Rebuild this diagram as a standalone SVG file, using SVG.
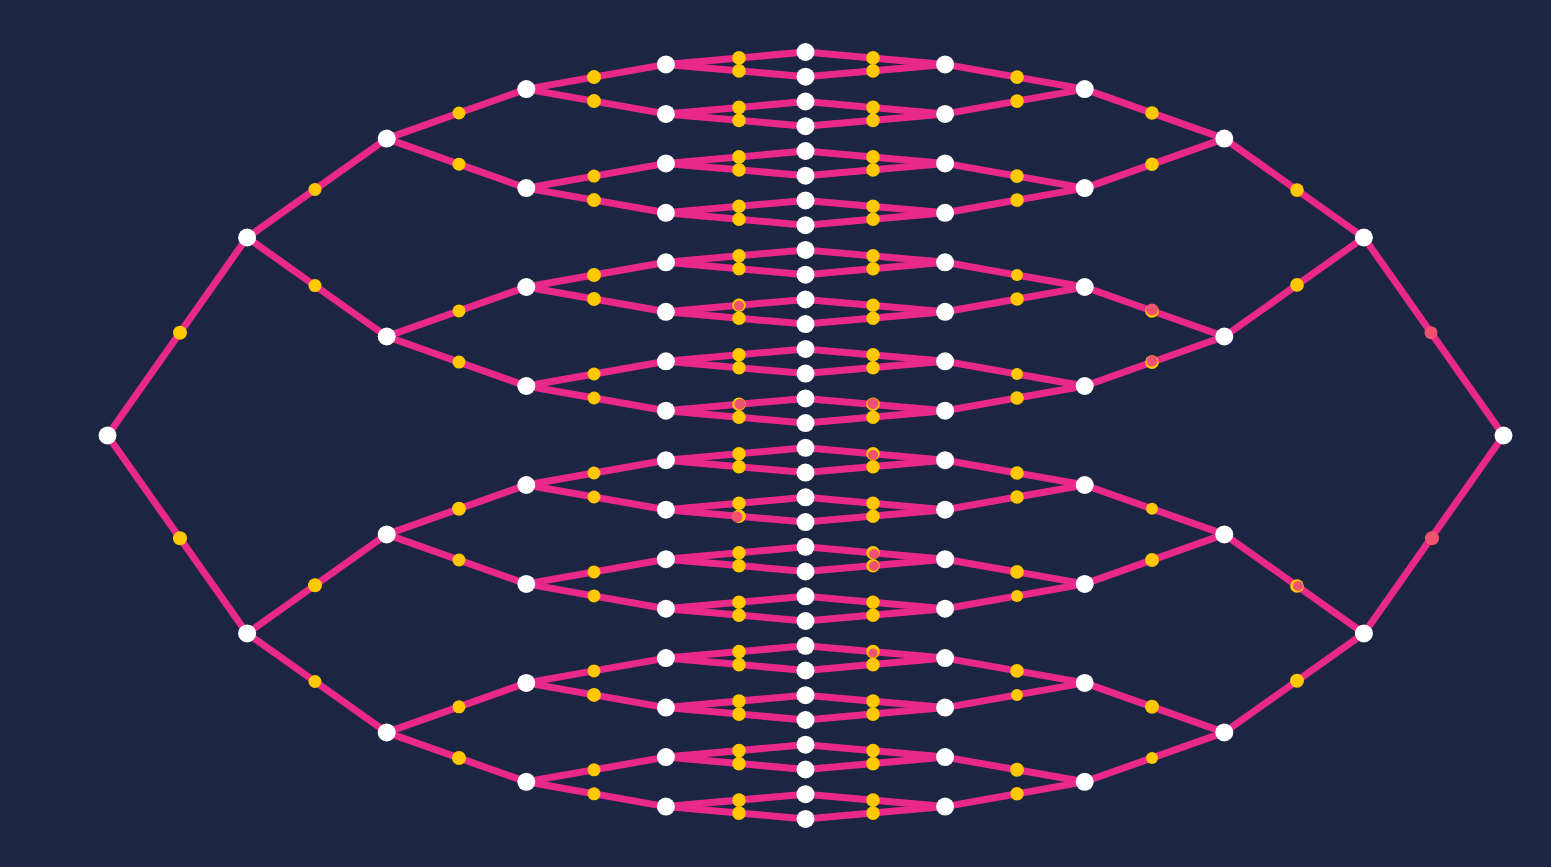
<svg xmlns="http://www.w3.org/2000/svg" width="1551" height="867" viewBox="0 0 1551 867">
<style>
.e line{stroke:#e8298a;stroke-width:7;stroke-linecap:round}
.n circle{fill:#ffffff}
.d circle{fill:#ffc800}
.d circle.r{fill:#ef5370}
</style>
<rect width="1551" height="867" fill="#1c2541"/>
<g id="connectors" class="e">
<line x1="107.5" y1="435.5" x2="247.1" y2="237.5"/><line x1="107.5" y1="435.5" x2="247.1" y2="633.4"/>
<line x1="247.1" y1="237.5" x2="386.7" y2="138.6"/><line x1="247.1" y1="237.5" x2="386.7" y2="336.5"/>
<line x1="247.1" y1="633.4" x2="386.7" y2="534.4"/><line x1="247.1" y1="633.4" x2="386.7" y2="732.4"/>
<line x1="386.7" y1="138.6" x2="526.3" y2="89.1"/><line x1="386.7" y1="138.6" x2="526.3" y2="188.1"/>
<line x1="386.7" y1="336.5" x2="526.3" y2="287.0"/><line x1="386.7" y1="336.5" x2="526.3" y2="386.0"/>
<line x1="386.7" y1="534.4" x2="526.3" y2="485.0"/><line x1="386.7" y1="534.4" x2="526.3" y2="583.9"/>
<line x1="386.7" y1="732.4" x2="526.3" y2="682.9"/><line x1="386.7" y1="732.4" x2="526.3" y2="781.8"/>
<line x1="526.3" y1="89.1" x2="665.9" y2="64.4"/><line x1="526.3" y1="89.1" x2="665.9" y2="113.9"/>
<line x1="526.3" y1="188.1" x2="665.9" y2="163.4"/><line x1="526.3" y1="188.1" x2="665.9" y2="212.8"/>
<line x1="526.3" y1="287.0" x2="665.9" y2="262.3"/><line x1="526.3" y1="287.0" x2="665.9" y2="311.8"/>
<line x1="526.3" y1="386.0" x2="665.9" y2="361.3"/><line x1="526.3" y1="386.0" x2="665.9" y2="410.7"/>
<line x1="526.3" y1="485.0" x2="665.9" y2="460.2"/><line x1="526.3" y1="485.0" x2="665.9" y2="509.7"/>
<line x1="526.3" y1="583.9" x2="665.9" y2="559.2"/><line x1="526.3" y1="583.9" x2="665.9" y2="608.7"/>
<line x1="526.3" y1="682.9" x2="665.9" y2="658.1"/><line x1="526.3" y1="682.9" x2="665.9" y2="707.6"/>
<line x1="526.3" y1="781.8" x2="665.9" y2="757.1"/><line x1="526.3" y1="781.8" x2="665.9" y2="806.6"/>
<line x1="665.9" y1="64.4" x2="805.5" y2="52.0"/><line x1="665.9" y1="64.4" x2="805.5" y2="76.7"/>
<line x1="665.9" y1="113.9" x2="805.5" y2="101.5"/><line x1="665.9" y1="113.9" x2="805.5" y2="126.2"/>
<line x1="665.9" y1="163.4" x2="805.5" y2="151.0"/><line x1="665.9" y1="163.4" x2="805.5" y2="175.7"/>
<line x1="665.9" y1="212.8" x2="805.5" y2="200.4"/><line x1="665.9" y1="212.8" x2="805.5" y2="225.2"/>
<line x1="665.9" y1="262.3" x2="805.5" y2="249.9"/><line x1="665.9" y1="262.3" x2="805.5" y2="274.7"/>
<line x1="665.9" y1="311.8" x2="805.5" y2="299.4"/><line x1="665.9" y1="311.8" x2="805.5" y2="324.1"/>
<line x1="665.9" y1="361.3" x2="805.5" y2="348.9"/><line x1="665.9" y1="361.3" x2="805.5" y2="373.6"/>
<line x1="665.9" y1="410.7" x2="805.5" y2="398.4"/><line x1="665.9" y1="410.7" x2="805.5" y2="423.1"/>
<line x1="665.9" y1="460.2" x2="805.5" y2="447.8"/><line x1="665.9" y1="460.2" x2="805.5" y2="472.6"/>
<line x1="665.9" y1="509.7" x2="805.5" y2="497.3"/><line x1="665.9" y1="509.7" x2="805.5" y2="522.1"/>
<line x1="665.9" y1="559.2" x2="805.5" y2="546.8"/><line x1="665.9" y1="559.2" x2="805.5" y2="571.5"/>
<line x1="665.9" y1="608.7" x2="805.5" y2="596.3"/><line x1="665.9" y1="608.7" x2="805.5" y2="621.0"/>
<line x1="665.9" y1="658.1" x2="805.5" y2="645.8"/><line x1="665.9" y1="658.1" x2="805.5" y2="670.5"/>
<line x1="665.9" y1="707.6" x2="805.5" y2="695.2"/><line x1="665.9" y1="707.6" x2="805.5" y2="720.0"/>
<line x1="665.9" y1="757.1" x2="805.5" y2="744.7"/><line x1="665.9" y1="757.1" x2="805.5" y2="769.5"/>
<line x1="665.9" y1="806.6" x2="805.5" y2="794.2"/><line x1="665.9" y1="806.6" x2="805.5" y2="818.9"/>
<line x1="1503.5" y1="435.5" x2="1363.9" y2="237.5"/><line x1="1503.5" y1="435.5" x2="1363.9" y2="633.4"/>
<line x1="1363.9" y1="237.5" x2="1224.3" y2="138.6"/><line x1="1363.9" y1="237.5" x2="1224.3" y2="336.5"/>
<line x1="1363.9" y1="633.4" x2="1224.3" y2="534.4"/><line x1="1363.9" y1="633.4" x2="1224.3" y2="732.4"/>
<line x1="1224.3" y1="138.6" x2="1084.7" y2="89.1"/><line x1="1224.3" y1="138.6" x2="1084.7" y2="188.1"/>
<line x1="1224.3" y1="336.5" x2="1084.7" y2="287.0"/><line x1="1224.3" y1="336.5" x2="1084.7" y2="386.0"/>
<line x1="1224.3" y1="534.4" x2="1084.7" y2="485.0"/><line x1="1224.3" y1="534.4" x2="1084.7" y2="583.9"/>
<line x1="1224.3" y1="732.4" x2="1084.7" y2="682.9"/><line x1="1224.3" y1="732.4" x2="1084.7" y2="781.8"/>
<line x1="1084.7" y1="89.1" x2="945.1" y2="64.4"/><line x1="1084.7" y1="89.1" x2="945.1" y2="113.9"/>
<line x1="1084.7" y1="188.1" x2="945.1" y2="163.4"/><line x1="1084.7" y1="188.1" x2="945.1" y2="212.8"/>
<line x1="1084.7" y1="287.0" x2="945.1" y2="262.3"/><line x1="1084.7" y1="287.0" x2="945.1" y2="311.8"/>
<line x1="1084.7" y1="386.0" x2="945.1" y2="361.3"/><line x1="1084.7" y1="386.0" x2="945.1" y2="410.7"/>
<line x1="1084.7" y1="485.0" x2="945.1" y2="460.2"/><line x1="1084.7" y1="485.0" x2="945.1" y2="509.7"/>
<line x1="1084.7" y1="583.9" x2="945.1" y2="559.2"/><line x1="1084.7" y1="583.9" x2="945.1" y2="608.7"/>
<line x1="1084.7" y1="682.9" x2="945.1" y2="658.1"/><line x1="1084.7" y1="682.9" x2="945.1" y2="707.6"/>
<line x1="1084.7" y1="781.8" x2="945.1" y2="757.1"/><line x1="1084.7" y1="781.8" x2="945.1" y2="806.6"/>
<line x1="945.1" y1="64.4" x2="805.5" y2="52.0"/><line x1="945.1" y1="64.4" x2="805.5" y2="76.7"/>
<line x1="945.1" y1="113.9" x2="805.5" y2="101.5"/><line x1="945.1" y1="113.9" x2="805.5" y2="126.2"/>
<line x1="945.1" y1="163.4" x2="805.5" y2="151.0"/><line x1="945.1" y1="163.4" x2="805.5" y2="175.7"/>
<line x1="945.1" y1="212.8" x2="805.5" y2="200.4"/><line x1="945.1" y1="212.8" x2="805.5" y2="225.2"/>
<line x1="945.1" y1="262.3" x2="805.5" y2="249.9"/><line x1="945.1" y1="262.3" x2="805.5" y2="274.7"/>
<line x1="945.1" y1="311.8" x2="805.5" y2="299.4"/><line x1="945.1" y1="311.8" x2="805.5" y2="324.1"/>
<line x1="945.1" y1="361.3" x2="805.5" y2="348.9"/><line x1="945.1" y1="361.3" x2="805.5" y2="373.6"/>
<line x1="945.1" y1="410.7" x2="805.5" y2="398.4"/><line x1="945.1" y1="410.7" x2="805.5" y2="423.1"/>
<line x1="945.1" y1="460.2" x2="805.5" y2="447.8"/><line x1="945.1" y1="460.2" x2="805.5" y2="472.6"/>
<line x1="945.1" y1="509.7" x2="805.5" y2="497.3"/><line x1="945.1" y1="509.7" x2="805.5" y2="522.1"/>
<line x1="945.1" y1="559.2" x2="805.5" y2="546.8"/><line x1="945.1" y1="559.2" x2="805.5" y2="571.5"/>
<line x1="945.1" y1="608.7" x2="805.5" y2="596.3"/><line x1="945.1" y1="608.7" x2="805.5" y2="621.0"/>
<line x1="945.1" y1="658.1" x2="805.5" y2="645.8"/><line x1="945.1" y1="658.1" x2="805.5" y2="670.5"/>
<line x1="945.1" y1="707.6" x2="805.5" y2="695.2"/><line x1="945.1" y1="707.6" x2="805.5" y2="720.0"/>
<line x1="945.1" y1="757.1" x2="805.5" y2="744.7"/><line x1="945.1" y1="757.1" x2="805.5" y2="769.5"/>
<line x1="945.1" y1="806.6" x2="805.5" y2="794.2"/><line x1="945.1" y1="806.6" x2="805.5" y2="818.9"/>
</g>
<g id="packets" class="d">
<circle cx="180" cy="332.7" r="7"/><circle cx="180" cy="538.2" r="7"/>
<circle cx="315" cy="189.4" r="6.5"/><circle cx="315" cy="285.6" r="6.5"/><circle cx="315" cy="585.3" r="7"/><circle cx="315" cy="681.5" r="6.5"/>
<circle cx="459" cy="113.0" r="6.5"/><circle cx="459" cy="164.2" r="6.5"/><circle cx="459" cy="310.9" r="6.5"/><circle cx="459" cy="362.1" r="6.5"/><circle cx="459" cy="508.8" r="7"/><circle cx="459" cy="560.0" r="6.5"/><circle cx="459" cy="706.8" r="6.5"/><circle cx="459" cy="758.0" r="7"/>
<circle cx="594" cy="77.1" r="7"/><circle cx="594" cy="101.1" r="7"/><circle cx="594" cy="176.1" r="6.5"/><circle cx="594" cy="200.1" r="7"/><circle cx="594" cy="275.0" r="7"/><circle cx="594" cy="299.0" r="7"/><circle cx="594" cy="374.0" r="6.5"/><circle cx="594" cy="398.0" r="6.5"/><circle cx="594" cy="473.0" r="6.5"/><circle cx="594" cy="497.0" r="6.5"/><circle cx="594" cy="571.9" r="6.5"/><circle cx="594" cy="595.9" r="6.5"/><circle cx="594" cy="670.9" r="6.5"/><circle cx="594" cy="694.9" r="7"/><circle cx="594" cy="769.8" r="6.5"/><circle cx="594" cy="793.8" r="6.5"/>
<circle cx="739" cy="57.9" r="6.8"/><circle cx="739" cy="70.9" r="6.8"/><circle cx="739" cy="107.4" r="6.8"/><circle cx="739" cy="120.4" r="6.8"/><circle cx="739" cy="156.9" r="6.8"/><circle cx="739" cy="169.9" r="6.8"/><circle cx="739" cy="206.3" r="6.8"/><circle cx="739" cy="219.3" r="6.8"/><circle cx="739" cy="255.8" r="6.8"/><circle cx="739" cy="268.8" r="6.8"/><circle cx="739" cy="305.3" r="6.8"/><circle cx="739" cy="318.3" r="6.8"/><circle cx="739" cy="354.8" r="6.8"/><circle cx="739" cy="367.8" r="6.8"/><circle cx="739" cy="404.2" r="6.8"/><circle cx="739" cy="417.2" r="6.8"/><circle cx="739" cy="453.7" r="6.8"/><circle cx="739" cy="466.7" r="6.8"/><circle cx="739" cy="503.2" r="6.8"/><circle cx="739" cy="516.2" r="6.8"/><circle cx="739" cy="552.7" r="6.8"/><circle cx="739" cy="565.7" r="6.8"/><circle cx="739" cy="602.2" r="6.8"/><circle cx="739" cy="615.2" r="6.8"/><circle cx="739" cy="651.6" r="6.8"/><circle cx="739" cy="664.6" r="6.8"/><circle cx="739" cy="701.1" r="6.8"/><circle cx="739" cy="714.1" r="6.8"/><circle cx="739" cy="750.6" r="6.8"/><circle cx="739" cy="763.6" r="6.8"/><circle cx="739" cy="800.1" r="6.8"/><circle cx="739" cy="813.1" r="6.8"/>
<circle cx="873" cy="57.9" r="6.8"/><circle cx="873" cy="70.9" r="6.8"/><circle cx="873" cy="107.4" r="6.8"/><circle cx="873" cy="120.4" r="6.8"/><circle cx="873" cy="156.9" r="6.8"/><circle cx="873" cy="169.9" r="6.8"/><circle cx="873" cy="206.3" r="6.8"/><circle cx="873" cy="219.3" r="6.8"/><circle cx="873" cy="255.8" r="6.8"/><circle cx="873" cy="268.8" r="6.8"/><circle cx="873" cy="305.3" r="6.8"/><circle cx="873" cy="318.3" r="6.8"/><circle cx="873" cy="354.8" r="6.8"/><circle cx="873" cy="367.8" r="6.8"/><circle cx="873" cy="404.2" r="6.8"/><circle cx="873" cy="417.2" r="6.8"/><circle cx="873" cy="453.7" r="6.8"/><circle cx="873" cy="466.7" r="6.8"/><circle cx="873" cy="503.2" r="6.8"/><circle cx="873" cy="516.2" r="6.8"/><circle cx="873" cy="552.7" r="6.8"/><circle cx="873" cy="565.7" r="6.8"/><circle cx="873" cy="602.2" r="6.8"/><circle cx="873" cy="615.2" r="6.8"/><circle cx="873" cy="651.6" r="6.8"/><circle cx="873" cy="664.6" r="6.8"/><circle cx="873" cy="701.1" r="6.8"/><circle cx="873" cy="714.1" r="6.8"/><circle cx="873" cy="750.6" r="6.8"/><circle cx="873" cy="763.6" r="6.8"/><circle cx="873" cy="800.1" r="6.8"/><circle cx="873" cy="813.1" r="6.8"/>
<circle cx="1017" cy="77.1" r="6.8"/><circle cx="1017" cy="101.1" r="6.8"/><circle cx="1017" cy="176.1" r="6.8"/><circle cx="1017" cy="200.1" r="6.8"/><circle cx="1017" cy="275.0" r="6"/><circle cx="1017" cy="299.0" r="6.8"/><circle cx="1017" cy="374.0" r="6"/><circle cx="1017" cy="398.0" r="6.8"/><circle cx="1017" cy="473.0" r="6.8"/><circle cx="1017" cy="497.0" r="6.8"/><circle cx="1017" cy="571.9" r="6.8"/><circle cx="1017" cy="595.9" r="6"/><circle cx="1017" cy="670.9" r="6.8"/><circle cx="1017" cy="694.9" r="6"/><circle cx="1017" cy="769.8" r="7"/><circle cx="1017" cy="793.8" r="6.8"/>
<circle cx="1152" cy="113.0" r="6.8"/><circle cx="1152" cy="164.2" r="6.8"/><circle cx="1152" cy="310.9" r="6.8"/><circle cx="1152" cy="362.1" r="6.8"/><circle cx="1152" cy="508.8" r="6"/><circle cx="1152" cy="560.0" r="7"/><circle cx="1152" cy="706.8" r="7"/><circle cx="1152" cy="758.0" r="6"/>
<circle cx="1297" cy="190.1" r="6.8"/><circle cx="1297" cy="284.9" r="6.8"/><circle cx="1297" cy="586.0" r="6.8"/><circle cx="1297" cy="680.8" r="7"/>
<circle class="r" cx="1431" cy="332.7" r="6.5"/><circle class="r" cx="1432" cy="538.2" r="7"/>
<circle class="r" cx="1152" cy="309.5" r="6"/><circle class="r" cx="1152" cy="361" r="5.5"/><circle class="r" cx="1298" cy="586" r="5"/>
<circle class="r" cx="740" cy="404.2" r="5.5"/><circle class="r" cx="873" cy="403.5" r="5.5"/><circle class="r" cx="873" cy="455" r="5"/><circle class="r" cx="737" cy="516.8" r="5.5"/><circle class="r" cx="739" cy="305.8" r="5"/><circle class="r" cx="874" cy="554" r="5"/><circle class="r" cx="874" cy="566" r="5"/><circle class="r" cx="873" cy="653" r="4.5"/>
</g>
<g class="n">
<g id="n-left-root"><circle cx="107.5" cy="435.5" r="9"/></g>
<g id="n-left-1-0"><circle cx="247.1" cy="237.5" r="9"/></g><g id="n-left-1-1"><circle cx="247.1" cy="633.4" r="9"/></g>
<g id="n-left-2-0"><circle cx="386.7" cy="138.6" r="9"/></g><g id="n-left-2-1"><circle cx="386.7" cy="336.5" r="9"/></g><g id="n-left-2-2"><circle cx="386.7" cy="534.4" r="9"/></g><g id="n-left-2-3"><circle cx="386.7" cy="732.4" r="9"/></g>
<g id="n-left-3-0"><circle cx="526.3" cy="89.1" r="9"/></g><g id="n-left-3-1"><circle cx="526.3" cy="188.1" r="9"/></g><g id="n-left-3-2"><circle cx="526.3" cy="287.0" r="9"/></g><g id="n-left-3-3"><circle cx="526.3" cy="386.0" r="9"/></g><g id="n-left-3-4"><circle cx="526.3" cy="485.0" r="9"/></g><g id="n-left-3-5"><circle cx="526.3" cy="583.9" r="9"/></g><g id="n-left-3-6"><circle cx="526.3" cy="682.9" r="9"/></g><g id="n-left-3-7"><circle cx="526.3" cy="781.8" r="9"/></g>
<g id="n-left-4-0"><circle cx="665.9" cy="64.4" r="9"/></g><g id="n-left-4-1"><circle cx="665.9" cy="113.9" r="9"/></g><g id="n-left-4-2"><circle cx="665.9" cy="163.4" r="9"/></g><g id="n-left-4-3"><circle cx="665.9" cy="212.8" r="9"/></g><g id="n-left-4-4"><circle cx="665.9" cy="262.3" r="9"/></g><g id="n-left-4-5"><circle cx="665.9" cy="311.8" r="9"/></g><g id="n-left-4-6"><circle cx="665.9" cy="361.3" r="9"/></g><g id="n-left-4-7"><circle cx="665.9" cy="410.7" r="9"/></g><g id="n-left-4-8"><circle cx="665.9" cy="460.2" r="9"/></g><g id="n-left-4-9"><circle cx="665.9" cy="509.7" r="9"/></g><g id="n-left-4-10"><circle cx="665.9" cy="559.2" r="9"/></g><g id="n-left-4-11"><circle cx="665.9" cy="608.7" r="9"/></g><g id="n-left-4-12"><circle cx="665.9" cy="658.1" r="9"/></g><g id="n-left-4-13"><circle cx="665.9" cy="707.6" r="9"/></g><g id="n-left-4-14"><circle cx="665.9" cy="757.1" r="9"/></g><g id="n-left-4-15"><circle cx="665.9" cy="806.6" r="9"/></g>
<g id="n-mid-0"><circle cx="805.5" cy="52.0" r="9"/></g><g id="n-mid-1"><circle cx="805.5" cy="76.7" r="9"/></g><g id="n-mid-2"><circle cx="805.5" cy="101.5" r="9"/></g><g id="n-mid-3"><circle cx="805.5" cy="126.2" r="9"/></g><g id="n-mid-4"><circle cx="805.5" cy="151.0" r="9"/></g><g id="n-mid-5"><circle cx="805.5" cy="175.7" r="9"/></g><g id="n-mid-6"><circle cx="805.5" cy="200.4" r="9"/></g><g id="n-mid-7"><circle cx="805.5" cy="225.2" r="9"/></g><g id="n-mid-8"><circle cx="805.5" cy="249.9" r="9"/></g><g id="n-mid-9"><circle cx="805.5" cy="274.7" r="9"/></g><g id="n-mid-10"><circle cx="805.5" cy="299.4" r="9"/></g><g id="n-mid-11"><circle cx="805.5" cy="324.1" r="9"/></g><g id="n-mid-12"><circle cx="805.5" cy="348.9" r="9"/></g><g id="n-mid-13"><circle cx="805.5" cy="373.6" r="9"/></g><g id="n-mid-14"><circle cx="805.5" cy="398.4" r="9"/></g><g id="n-mid-15"><circle cx="805.5" cy="423.1" r="9"/></g><g id="n-mid-16"><circle cx="805.5" cy="447.8" r="9"/></g><g id="n-mid-17"><circle cx="805.5" cy="472.6" r="9"/></g><g id="n-mid-18"><circle cx="805.5" cy="497.3" r="9"/></g><g id="n-mid-19"><circle cx="805.5" cy="522.1" r="9"/></g><g id="n-mid-20"><circle cx="805.5" cy="546.8" r="9"/></g><g id="n-mid-21"><circle cx="805.5" cy="571.5" r="9"/></g><g id="n-mid-22"><circle cx="805.5" cy="596.3" r="9"/></g><g id="n-mid-23"><circle cx="805.5" cy="621.0" r="9"/></g><g id="n-mid-24"><circle cx="805.5" cy="645.8" r="9"/></g><g id="n-mid-25"><circle cx="805.5" cy="670.5" r="9"/></g><g id="n-mid-26"><circle cx="805.5" cy="695.2" r="9"/></g><g id="n-mid-27"><circle cx="805.5" cy="720.0" r="9"/></g><g id="n-mid-28"><circle cx="805.5" cy="744.7" r="9"/></g><g id="n-mid-29"><circle cx="805.5" cy="769.5" r="9"/></g><g id="n-mid-30"><circle cx="805.5" cy="794.2" r="9"/></g><g id="n-mid-31"><circle cx="805.5" cy="818.9" r="9"/></g>
<g id="n-right-4-0"><circle cx="945.1" cy="64.4" r="9"/></g><g id="n-right-4-1"><circle cx="945.1" cy="113.9" r="9"/></g><g id="n-right-4-2"><circle cx="945.1" cy="163.4" r="9"/></g><g id="n-right-4-3"><circle cx="945.1" cy="212.8" r="9"/></g><g id="n-right-4-4"><circle cx="945.1" cy="262.3" r="9"/></g><g id="n-right-4-5"><circle cx="945.1" cy="311.8" r="9"/></g><g id="n-right-4-6"><circle cx="945.1" cy="361.3" r="9"/></g><g id="n-right-4-7"><circle cx="945.1" cy="410.7" r="9"/></g><g id="n-right-4-8"><circle cx="945.1" cy="460.2" r="9"/></g><g id="n-right-4-9"><circle cx="945.1" cy="509.7" r="9"/></g><g id="n-right-4-10"><circle cx="945.1" cy="559.2" r="9"/></g><g id="n-right-4-11"><circle cx="945.1" cy="608.7" r="9"/></g><g id="n-right-4-12"><circle cx="945.1" cy="658.1" r="9"/></g><g id="n-right-4-13"><circle cx="945.1" cy="707.6" r="9"/></g><g id="n-right-4-14"><circle cx="945.1" cy="757.1" r="9"/></g><g id="n-right-4-15"><circle cx="945.1" cy="806.6" r="9"/></g>
<g id="n-right-3-0"><circle cx="1084.7" cy="89.1" r="9"/></g><g id="n-right-3-1"><circle cx="1084.7" cy="188.1" r="9"/></g><g id="n-right-3-2"><circle cx="1084.7" cy="287.0" r="9"/></g><g id="n-right-3-3"><circle cx="1084.7" cy="386.0" r="9"/></g><g id="n-right-3-4"><circle cx="1084.7" cy="485.0" r="9"/></g><g id="n-right-3-5"><circle cx="1084.7" cy="583.9" r="9"/></g><g id="n-right-3-6"><circle cx="1084.7" cy="682.9" r="9"/></g><g id="n-right-3-7"><circle cx="1084.7" cy="781.8" r="9"/></g>
<g id="n-right-2-0"><circle cx="1224.3" cy="138.6" r="9"/></g><g id="n-right-2-1"><circle cx="1224.3" cy="336.5" r="9"/></g><g id="n-right-2-2"><circle cx="1224.3" cy="534.4" r="9"/></g><g id="n-right-2-3"><circle cx="1224.3" cy="732.4" r="9"/></g>
<g id="n-right-1-0"><circle cx="1363.9" cy="237.5" r="9"/></g><g id="n-right-1-1"><circle cx="1363.9" cy="633.4" r="9"/></g>
<g id="n-right-root"><circle cx="1503.5" cy="435.5" r="9"/></g>
</g>
</svg>
